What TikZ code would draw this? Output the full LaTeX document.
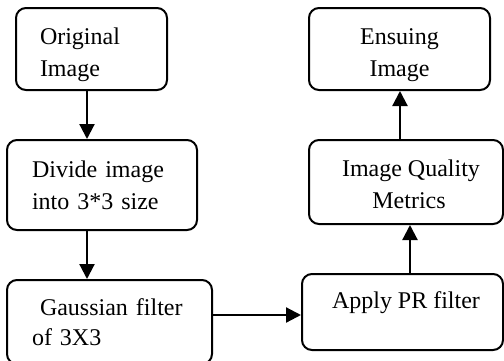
\documentclass[tikz,border=0pt]{standalone}
\usepackage{fontspec}
\setmainfont{Liberation Serif}
\usetikzlibrary{arrows.meta}

\newcommand{\lowerby}[1]{\rule{0pt}{#1}}

\begin{document}
\begin{tikzpicture}[
	x=1pt, y=-1pt,
	box/.style = {draw, rounded corners=10pt, line width=2pt, inner ysep=0pt, font=\fontsize{24}{32}\selectfont},
	arrow/.style = {-{Triangle[length=15pt, width=15pt]}, line width=2.2pt}
]
\clip (0,0) rectangle (504,360);

% left column
\node[box, align=left, text width=103pt, inner xsep=24pt, minimum height=82pt] (orig) at (91.5,49) {\lowerby{29pt}Original\\Image};
\node[box, align=left, text width=140pt, inner xsep=25pt, minimum height=90pt] (divide) at (102,185) {Divide image\\into 3*3 size};
\node[box, align=left, text width=155pt, inner xsep=25pt, minimum height=84pt] (gauss) at (109.5,322) {\hspace*{8pt}Gaussian filter\\[-2pt]of 3X3};

% right column
\node[box, minimum width=201pt, minimum height=76pt, text height=17pt, text depth=25pt] (apply) at (402.5,312) {\hspace*{7pt}Apply PR filter};
\node[box, align=center, minimum width=194pt, minimum height=84pt] (metrics) at (406,182) {\lowerby{22pt}\hspace*{10pt}Image Quality\\\hspace*{6pt}Metrics};
\node[box, align=center, minimum width=181pt, minimum height=82pt] (ensuing) at (399.5,49) {\lowerby{29pt}Ensuing\\Image};

\draw[arrow] ([xshift=-4.5pt]orig.south) -- ([xshift=-15pt]divide.north);
\draw[arrow] ([xshift=-15pt]divide.south) -- ([xshift=-22.5pt]gauss.north);
\draw[arrow] ([yshift=7pt]gauss.east) -- ([yshift=-3pt]apply.west);
\draw[arrow] ([xshift=7.5pt]apply.north) -- ([xshift=4pt]metrics.south);
\draw[arrow] ([xshift=-6pt]metrics.north) -- ([xshift=0.5pt]ensuing.south);

\end{tikzpicture}
\end{document}
